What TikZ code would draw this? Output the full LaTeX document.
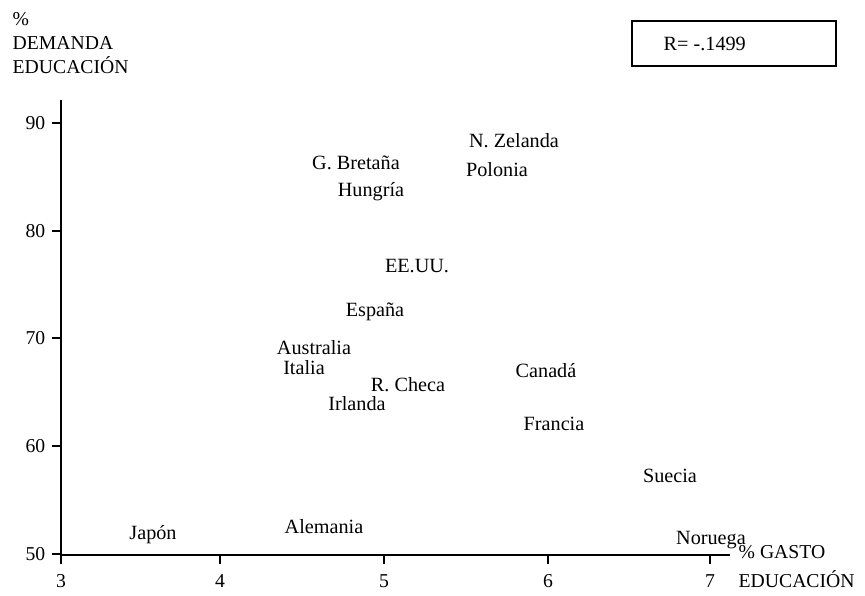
\documentclass[tikz,border=0pt]{standalone}
\usepackage{fontspec}
\setmainfont{Liberation Serif}
\usepackage{tikz}
\tikzset{every path/.style={thick}}
\tikzset{pais/.style={font=\fontsize{11.5}{13}\selectfont,inner sep=0pt}}
\tikzset{etiq/.style={font=\fontsize{11.2}{13}\selectfont,inner sep=0pt}}

\begin{document}
\begin{tikzpicture}[x=0.02cm,y=-0.02cm]
\useasboundingbox (0,0) rectangle (865,595);
% ejes
\coordinate (o) at (61,555);
\coordinate (ytop) at (61,100);
\coordinate (xend) at (730,555);
\draw (ytop) -- (o) -- (xend);
\foreach \v/\px in {3/61,4/220,5/384,6/548,7/710} {
  \draw (\px,555) -- (\px,564);
  \node[etiq,anchor=base] (x\v) at (\px,587) {\v};
}
\foreach \v/\py in {90/123,80/231,70/338,60/446,50/554} {
  \draw (52,\py) -- (61,\py);
  \node[etiq,anchor=east] (y\v) at (46,\py) {\v};
}
% titulos de los ejes
\node[etiq,anchor=base west] (ypct) at (12,26) {\%};
\node[etiq,anchor=base west] (ydem) at (12,50) {DEMANDA};
\node[etiq,anchor=base west] (yedu) at (12,73) {EDUCACIÓN};
\node[etiq,anchor=base west] (xgas) at (738,558) {\% GASTO};
\node[etiq,anchor=base west] (xedu) at (738,587) {EDUCACIÓN};
% coeficiente
\draw (632,21) rectangle (836,66);
\node[pais,anchor=west] (r) at (663,44) {R= -.1499};
% paises
\node[pais] (zel) at (514,141) {N. Zelanda};
\node[pais] (pol) at (497,170) {Polonia};
\node[pais] (gbr) at (356,163) {G. Bretaña};
\node[pais] (hun) at (371,192) {Hungría};
\node[pais] (usa) at (417,266) {EE.UU.};
\node[pais] (esp) at (375,312) {España};
\node[pais] (aus) at (314,348) {Australia};
\node[pais] (ita) at (304,368) {Italia};
\node[pais] (che) at (408,385) {R. Checa};
\node[pais] (irl) at (357,404) {Irlanda};
\node[pais] (can) at (546,371) {Canadá};
\node[pais] (fra) at (554,424) {Francia};
\node[pais] (sue) at (670,476) {Suecia};
\node[pais] (jap) at (153,535) {Japón};
\node[pais] (ale) at (324,527) {Alemania};
\node[pais] (nor) at (711,540) {Noruega};
\end{tikzpicture}
\end{document}
